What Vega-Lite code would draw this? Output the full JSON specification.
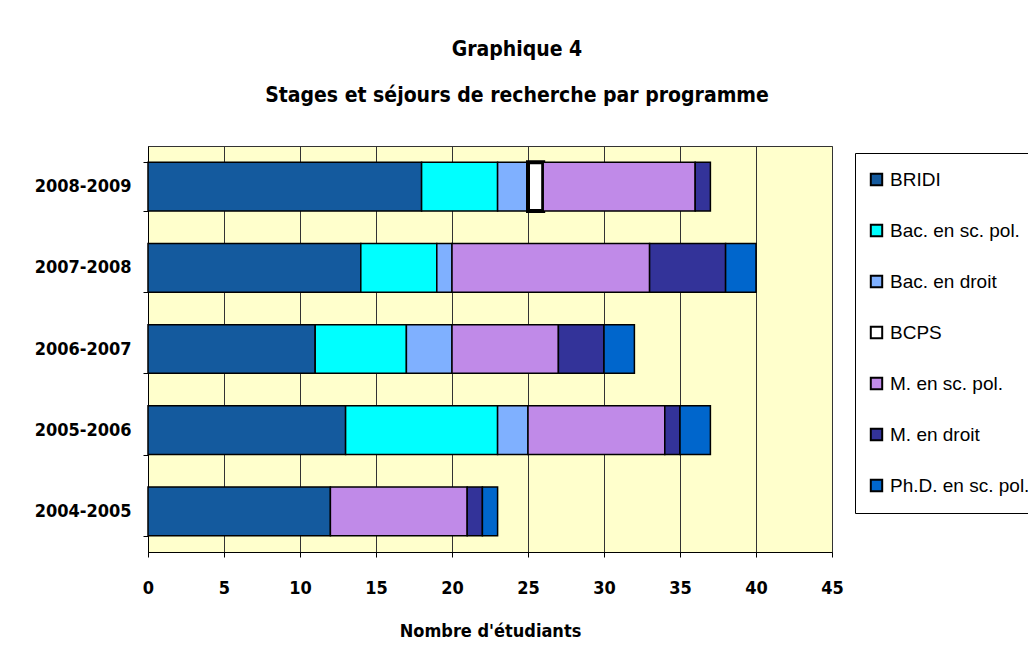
{
  "$schema": "https://vega.github.io/schema/vega-lite/v6.json",
  "width": 684,
  "height": 406,
  "autosize": {"type": "none"},
  "padding": {"left": 148, "top": 146, "right": 196, "bottom": 93},
  "background": "white",
  "title": {
    "text": "Graphique 4",
    "subtitle": "Stages et séjours de recherche par programme",
    "anchor": "middle",
    "frame": "group",
    "dx": 27,
    "offset": 31,
    "font": "Liberation Sans Narrow, Arial Narrow, DejaVu Sans Condensed",
    "fontSize": 21,
    "fontWeight": "bold",
    "color": "black",
    "subtitleFont": "Liberation Sans Narrow, Arial Narrow, DejaVu Sans Condensed",
    "subtitleFontSize": 21,
    "subtitleFontWeight": "bold",
    "subtitleColor": "black",
    "subtitlePadding": 25
  },
  "data": {
    "values": [
      {"annee": "2008-2009", "programme": "BRIDI", "o": 1, "n": 18},
      {"annee": "2008-2009", "programme": "Bac. en sc. pol.", "o": 2, "n": 5},
      {"annee": "2008-2009", "programme": "Bac. en droit", "o": 3, "n": 2},
      {"annee": "2008-2009", "programme": "BCPS", "o": 4, "n": 1},
      {"annee": "2008-2009", "programme": "M. en sc. pol.", "o": 5, "n": 10},
      {"annee": "2008-2009", "programme": "M. en droit", "o": 6, "n": 1},
      {"annee": "2007-2008", "programme": "BRIDI", "o": 1, "n": 14},
      {"annee": "2007-2008", "programme": "Bac. en sc. pol.", "o": 2, "n": 5},
      {"annee": "2007-2008", "programme": "Bac. en droit", "o": 3, "n": 1},
      {"annee": "2007-2008", "programme": "M. en sc. pol.", "o": 5, "n": 13},
      {"annee": "2007-2008", "programme": "M. en droit", "o": 6, "n": 5},
      {"annee": "2007-2008", "programme": "Ph.D. en sc. pol.", "o": 7, "n": 2},
      {"annee": "2006-2007", "programme": "BRIDI", "o": 1, "n": 11},
      {"annee": "2006-2007", "programme": "Bac. en sc. pol.", "o": 2, "n": 6},
      {"annee": "2006-2007", "programme": "Bac. en droit", "o": 3, "n": 3},
      {"annee": "2006-2007", "programme": "M. en sc. pol.", "o": 5, "n": 7},
      {"annee": "2006-2007", "programme": "M. en droit", "o": 6, "n": 3},
      {"annee": "2006-2007", "programme": "Ph.D. en sc. pol.", "o": 7, "n": 2},
      {"annee": "2005-2006", "programme": "BRIDI", "o": 1, "n": 13},
      {"annee": "2005-2006", "programme": "Bac. en sc. pol.", "o": 2, "n": 10},
      {"annee": "2005-2006", "programme": "Bac. en droit", "o": 3, "n": 2},
      {"annee": "2005-2006", "programme": "M. en sc. pol.", "o": 5, "n": 9},
      {"annee": "2005-2006", "programme": "M. en droit", "o": 6, "n": 1},
      {"annee": "2005-2006", "programme": "Ph.D. en sc. pol.", "o": 7, "n": 2},
      {"annee": "2004-2005", "programme": "BRIDI", "o": 1, "n": 12},
      {"annee": "2004-2005", "programme": "M. en sc. pol.", "o": 5, "n": 9},
      {"annee": "2004-2005", "programme": "M. en droit", "o": 6, "n": 1},
      {"annee": "2004-2005", "programme": "Ph.D. en sc. pol.", "o": 7, "n": 1}
    ]
  },
  "mark": {"type": "bar", "stroke": "black"},
  "encoding": {
    "y": {
      "field": "annee",
      "type": "nominal",
      "sort": "descending",
      "scale": {"paddingInner": 0.4, "paddingOuter": 0.2},
      "axis": {
        "title": null,
        "tickBand": "extent",
        "tickSize": 5,
        "tickColor": "black",
        "domainColor": "black",
        "labelPadding": 12,
        "labelFont": "Liberation Sans Narrow, Arial Narrow, DejaVu Sans Condensed",
        "labelFontSize": 18,
        "labelFontWeight": "bold",
        "labelColor": "black",
        "grid": false
      }
    },
    "x": {
      "field": "n",
      "type": "quantitative",
      "stack": "zero",
      "scale": {"domain": [0, 45], "nice": false},
      "axis": {
        "title": "Nombre d'étudiants",
        "values": [0, 5, 10, 15, 20, 25, 30, 35, 40, 45],
        "tickSize": 5,
        "tickColor": "black",
        "domainColor": "black",
        "grid": true,
        "gridColor": "#333333",
        "gridOpacity": 1,
        "labelPadding": 22,
        "labelFont": "Liberation Sans Narrow, Arial Narrow, DejaVu Sans Condensed",
        "labelFontSize": 18,
        "labelFontWeight": "bold",
        "labelColor": "black",
        "labelFlush": false,
        "titlePadding": 25,
        "titleFont": "Liberation Sans Narrow, Arial Narrow, DejaVu Sans Condensed",
        "titleFontSize": 18,
        "titleFontWeight": "bold",
        "titleColor": "black"
      }
    },
    "order": {"field": "o", "type": "quantitative"},
    "fill": {
      "field": "programme",
      "type": "nominal",
      "scale": {
        "domain": ["BRIDI", "Bac. en sc. pol.", "Bac. en droit", "BCPS", "M. en sc. pol.", "M. en droit", "Ph.D. en sc. pol."],
        "range": ["#145a9e", "#00ffff", "#7fb0ff", "#ffffff", "#c08ae8", "#333399", "#0066cc"]
      },
      "legend": {
        "title": null,
        "orient": "none",
        "legendX": 707,
        "legendY": 7,
        "direction": "vertical",
        "padding": 17,
        "strokeColor": "black",
        "fillColor": "white",
        "symbolType": "square",
        "symbolSize": 130,
        "symbolStrokeColor": "black",
        "symbolStrokeWidth": 2,
        "symbolOffset": -5,
        "rowPadding": 30,
        "labelFont": "Liberation Sans, Arial, DejaVu Sans Condensed",
        "labelFontSize": 19,
        "labelColor": "black",
        "labelOffset": 4,
        "labelLimit": 300
      }
    },
    "strokeWidth": {
      "condition": {"test": "datum.programme === 'BCPS'", "value": 4},
      "value": 1.5
    }
  },
  "config": {
    "view": {"fill": "#ffffcc", "stroke": "#333333"}
  }
}
